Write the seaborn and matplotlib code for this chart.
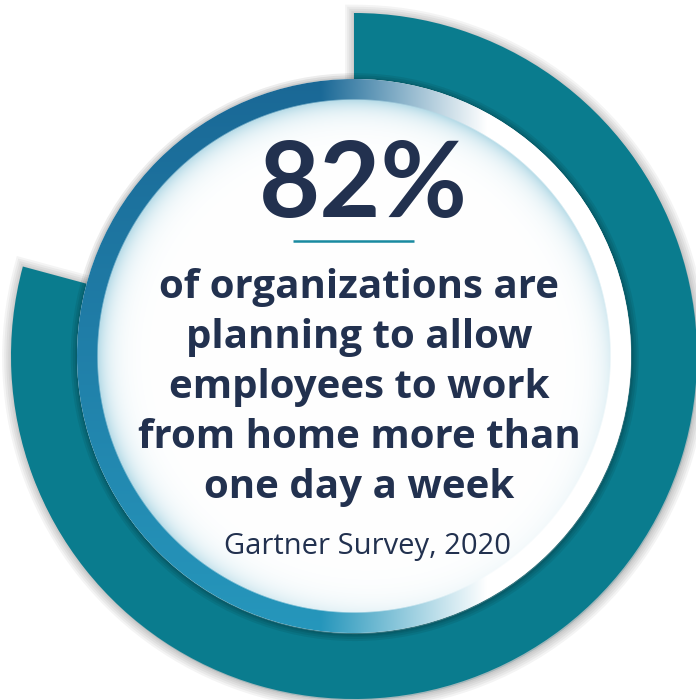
import numpy as np
import matplotlib
matplotlib.use("Agg")
import matplotlib.pyplot as plt
import matplotlib.patheffects as pe
from matplotlib.patches import Circle
import seaborn as sns

# values
ring_share = [79.2, 20.8]          # filled part of the ring vs gap (as drawn)
headline = "82%"
body_lines = ["of organizations are", "planning to allow", "employees to work",
              "from home more than", "one day a week"]
source = "Gartner Survey, 2020"

teal = "#0a7c8e"
navy = "#22314f"
W, H = 696, 700

if __name__ == "__main__":
    sns.set_theme(style="white")
    plt.rcParams['font.family'] = ['Open Sans', 'DejaVu Sans']

    fig = plt.figure(figsize=(W / 100, H / 100), dpi=100)
    ax = fig.add_axes([0, 0, 1, 1])

    cx, cy = 354, H - 356
    R_out = 343
    R_disc = 277
    R_white = 257

    # outer teal ring, clockwise from 12 o'clock
    wedges, _ = ax.pie(ring_share, radius=R_out, center=(cx, cy), startangle=90,
                       counterclock=False, colors=[teal, "none"],
                       wedgeprops=dict(width=75, linewidth=0))
    wedges[1].set_visible(False)
    shadow = [pe.Stroke(linewidth=w, foreground="black", alpha=0.045, offset=(0.6, -1.0))
              for w in (14, 11, 8, 5, 2.5)]
    wedges[0].set_path_effects(shadow + [pe.Normal()])
    wedges[0].set_zorder(1)

    # inner disc with drop shadow on the ring
    disc = Circle((cx, cy), R_disc, facecolor="white", edgecolor="none", zorder=2)
    disc.set_path_effects([pe.Stroke(linewidth=w, foreground="black", alpha=0.07, offset=(0.5, -0.8))
                           for w in (10, 7, 4, 2)] + [pe.Normal()])
    ax.add_patch(disc)

    # gradient border + inner glow, painted as an image clipped to the disc
    n = 2 * R_disc
    px = np.linspace(-1, 1, n)
    u, v = np.meshgrid(px, px)          # v positive downwards (image rows)
    r = np.hypot(u, v) * R_disc
    top_c = np.array(matplotlib.colors.to_rgb("#1a6896"))
    bot_c = np.array(matplotlib.colors.to_rgb("#2697bc"))
    base = top_c + (bot_c - top_c) * ((v + 1) / 2)[..., None]
    whiten = np.clip((u + 0.12) / 0.6, 0, 1)[..., None]
    border = base * (1 - whiten) + whiten
    glow_c = np.array(matplotlib.colors.to_rgb("#a6d3e2"))
    d = np.clip(R_white - r, 0, None)
    strength = np.clip(0.85 - 0.5 * np.clip(u + 1.2 * v, 0, None), 0.05, 0.85)
    g = (np.exp(-d / 12) * strength)[..., None]
    inner = glow_c * g + (1 - g)
    edge = np.clip((r - R_white + 0.8) / 1.6, 0, 1)[..., None]
    img = inner * (1 - edge) + border * edge
    im = ax.imshow(img, extent=(cx - R_disc, cx + R_disc, cy - R_disc, cy + R_disc),
                   origin="upper", zorder=3, interpolation="bilinear")
    clip = Circle((cx, cy), R_disc, transform=ax.transData)
    im.set_clip_path(clip)

    # texts
    ax.text(363, H - 187, headline, ha="center", va="center", fontsize=76,
            fontweight="bold", color=navy, family=['Lato', 'DejaVu Sans'], zorder=5)
    ax.plot([293, 414], [H - 241, H - 241], color="#1a8aa0", linewidth=1.8, zorder=5,
            solid_capstyle="butt")
    for i, line in enumerate(body_lines):
        ax.text(359, H - 283 - 50 * i, line, ha="center", va="center_baseline",
                fontsize=29, fontweight="bold", color=navy, zorder=5)
    ax.text(367, H - 543, source, ha="center", va="center_baseline", fontsize=21,
            color=navy, zorder=5)

    ax.set_xlim(0, W)
    ax.set_ylim(0, H)
    ax.set_aspect("auto")
    ax.axis("off")
    fig.savefig("out.png", dpi=100, facecolor="white")
